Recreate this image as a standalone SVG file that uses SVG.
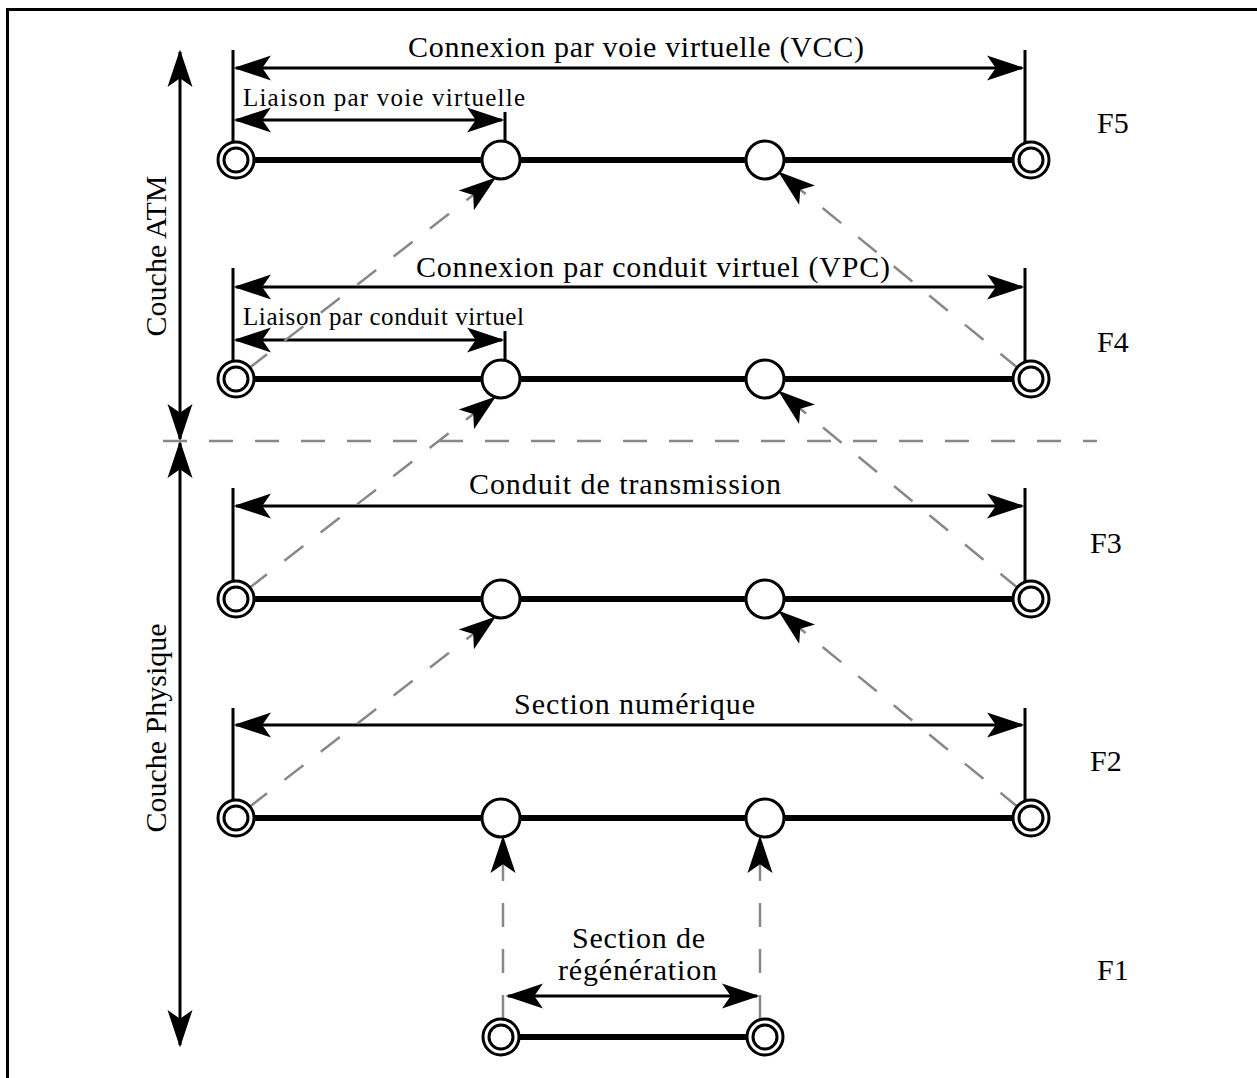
<svg xmlns="http://www.w3.org/2000/svg" width="1257" height="1078" viewBox="0 0 1257 1078">
<style>
.t{font-family:"Liberation Serif","Times New Roman",serif;font-size:30px;fill:#000}
.s{font-family:"Liberation Serif","Times New Roman",serif;font-size:25px;fill:#000}
.dim{stroke:#000;stroke-width:3;fill:none}
.tick{stroke:#000;stroke-width:3;fill:none}
.dash{stroke:#888;stroke-width:2.5;fill:none;stroke-dasharray:24 22}
.bus{stroke:#000;stroke-width:6;fill:none}
.node circle{fill:#fff;stroke:#000;stroke-width:3}
</style>
<defs>
<marker id="ah" markerUnits="userSpaceOnUse" markerWidth="40" markerHeight="40" refX="0" refY="0" orient="auto-start-reverse" overflow="visible" viewBox="-30 -12 32 24">
<path d="M2,0 L-28,-10 L-21,0 L-28,10 Z" fill="#000"/>
</marker>
</defs>
<g id="frame">
<path d="M7.5,1078 V9.5 H1257" stroke="#000" stroke-width="3" fill="none"/>
</g>
<g id="connectors">
<!-- layer axis -->
<line class="dim" x1="180" y1="52" x2="180" y2="439" marker-start="url(#ah)" marker-end="url(#ah)"/>
<line class="dim" x1="180" y1="443" x2="180" y2="1045" marker-start="url(#ah)" marker-end="url(#ah)"/>
<line class="dash" x1="163" y1="441" x2="1097" y2="441"/>
<!-- bus lines -->
<line class="bus" x1="236" y1="160" x2="1031" y2="160"/>
<line class="bus" x1="236" y1="379" x2="1031" y2="379"/>
<line class="bus" x1="236" y1="599" x2="1031" y2="599"/>
<line class="bus" x1="236" y1="818" x2="1031" y2="818"/>
<line class="bus" x1="501" y1="1037" x2="765" y2="1037"/>
<!-- ticks -->
<line class="tick" x1="233" y1="50" x2="233" y2="145"/>
<line class="tick" x1="1025" y1="50" x2="1025" y2="145"/>
<line class="tick" x1="505" y1="112" x2="505" y2="142"/>
<line class="tick" x1="233" y1="268" x2="233" y2="364"/>
<line class="tick" x1="1025" y1="268" x2="1025" y2="364"/>
<line class="tick" x1="505" y1="331" x2="505" y2="361"/>
<line class="tick" x1="233" y1="488" x2="233" y2="584"/>
<line class="tick" x1="1025" y1="488" x2="1025" y2="584"/>
<line class="tick" x1="233" y1="708" x2="233" y2="803"/>
<line class="tick" x1="1025" y1="708" x2="1025" y2="803"/>
<!-- dimension arrows -->
<line class="dim" x1="236" y1="68" x2="1022" y2="68" marker-start="url(#ah)" marker-end="url(#ah)"/>
<line class="dim" x1="236" y1="120" x2="502" y2="120" marker-start="url(#ah)" marker-end="url(#ah)"/>
<line class="dim" x1="236" y1="287" x2="1022" y2="287" marker-start="url(#ah)" marker-end="url(#ah)"/>
<line class="dim" x1="236" y1="340" x2="502" y2="340" marker-start="url(#ah)" marker-end="url(#ah)"/>
<line class="dim" x1="236" y1="506" x2="1022" y2="506" marker-start="url(#ah)" marker-end="url(#ah)"/>
<line class="dim" x1="236" y1="725" x2="1022" y2="725" marker-start="url(#ah)" marker-end="url(#ah)"/>
<line class="dim" x1="508" y1="996" x2="757" y2="996" marker-start="url(#ah)" marker-end="url(#ah)"/>
<!-- diagonal dashed arrows -->
<line class="dash" x1="248" y1="369" x2="494" y2="179" marker-end="url(#ah)"/>
<line class="dash" x1="1019" y1="369" x2="780" y2="173" marker-end="url(#ah)"/>
<line class="dash" x1="248" y1="589" x2="494" y2="398" marker-end="url(#ah)"/>
<line class="dash" x1="1019" y1="589" x2="780" y2="392" marker-end="url(#ah)"/>
<line class="dash" x1="248" y1="808" x2="494" y2="618" marker-end="url(#ah)"/>
<line class="dash" x1="1019" y1="808" x2="780" y2="612" marker-end="url(#ah)"/>
<line class="dash" x1="503" y1="1019" x2="503" y2="838" marker-end="url(#ah)"/>
<line class="dash" x1="760" y1="1019" x2="760" y2="838" marker-end="url(#ah)"/>
</g>
<g id="nodes-F5" class="node">
<circle cx="236" cy="160" r="18"/><circle cx="236" cy="160" r="12"/>
<circle cx="501" cy="160" r="19"/>
<circle cx="765" cy="160" r="19"/>
<circle cx="1031" cy="160" r="18"/><circle cx="1031" cy="160" r="12"/>
</g>
<g id="nodes-F4" class="node">
<circle cx="236" cy="379" r="18"/><circle cx="236" cy="379" r="12"/>
<circle cx="501" cy="379" r="19"/>
<circle cx="765" cy="379" r="19"/>
<circle cx="1031" cy="379" r="18"/><circle cx="1031" cy="379" r="12"/>
</g>
<g id="nodes-F3" class="node">
<circle cx="236" cy="599" r="18"/><circle cx="236" cy="599" r="12"/>
<circle cx="501" cy="599" r="19"/>
<circle cx="765" cy="599" r="19"/>
<circle cx="1031" cy="599" r="18"/><circle cx="1031" cy="599" r="12"/>
</g>
<g id="nodes-F2" class="node">
<circle cx="236" cy="818" r="18"/><circle cx="236" cy="818" r="12"/>
<circle cx="501" cy="818" r="19"/>
<circle cx="765" cy="818" r="19"/>
<circle cx="1031" cy="818" r="18"/><circle cx="1031" cy="818" r="12"/>
</g>
<g id="nodes-F1" class="node">
<circle cx="501" cy="1037" r="18"/><circle cx="501" cy="1037" r="12"/>
<circle cx="765" cy="1037" r="18"/><circle cx="765" cy="1037" r="12"/>
</g>
<g id="labels">
<text class="t" x="408" y="57" textLength="456" lengthAdjust="spacing">Connexion par voie virtuelle (VCC)</text>
<text class="s" x="243" y="106" textLength="282" lengthAdjust="spacing">Liaison par voie virtuelle</text>
<text class="t" x="416" y="277" textLength="474" lengthAdjust="spacing">Connexion par conduit virtuel (VPC)</text>
<text class="s" x="243" y="325" textLength="281" lengthAdjust="spacing">Liaison par conduit virtuel</text>
<text class="t" x="469" y="494" textLength="312" lengthAdjust="spacing">Conduit de transmission</text>
<text class="t" x="514" y="714" textLength="241" lengthAdjust="spacing">Section numérique</text>
<text class="t" x="572" y="948" textLength="133" lengthAdjust="spacing">Section de</text>
<text class="t" x="558" y="980" textLength="159" lengthAdjust="spacing">régénération</text>
<text class="t" x="1097" y="133">F5</text>
<text class="t" x="1097" y="352">F4</text>
<text class="t" x="1090" y="553">F3</text>
<text class="t" x="1090" y="771">F2</text>
<text class="t" x="1097" y="980">F1</text>
<text class="t" transform="translate(166,256) rotate(-90)" text-anchor="middle">Couche ATM</text>
<text class="t" transform="translate(166,728) rotate(-90)" text-anchor="middle">Couche Physique</text>
</g>
</svg>
